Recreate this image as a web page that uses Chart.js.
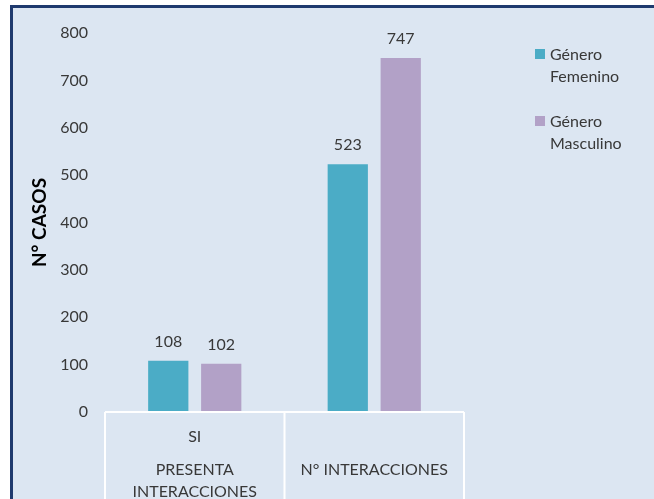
<!DOCTYPE html>
<html>
<head>
<meta charset="utf-8">
<script src="https://cdn.jsdelivr.net/npm/chart.js@4.4.1/dist/chart.umd.min.js"></script>
<style>
  html, body { margin: 0; padding: 0; background: #ffffff; overflow: hidden; }
  #wrap { position: relative; width: 654px; height: 499px; overflow: hidden; }
  #frame {
    position: absolute; left: 10px; top: 5px; width: 700px; height: 560px;
    background: #dce6f2; border: 3px solid #1f3a6e; box-sizing: border-box;
  }
  #chartBox { position: absolute; left: 0; top: 0; width: 654px; height: 540px; }
  #legend {
    position: absolute; left: 535px; top: 43px;
    font-family: Lato, "Liberation Sans", sans-serif; font-size: 16px; color: #383838;
    line-height: 22px;
  }
  .item { position: relative; padding-left: 15px; margin-bottom: 23px; }
  .swatch { position: absolute; left: 0; top: 6px; width: 10px; height: 10px; }
</style>
</head>
<body>
<div id="wrap">
  <div id="frame"></div>
  <div id="chartBox"><canvas id="c" width="654" height="540"></canvas></div>
  <div id="legend"></div>
</div>
<script>
// Inner category row and outer group row of the category axis
const categories = ["SI", ""];
const groupLabels = [["PRESENTA", "INTERACCIONES"], "N° INTERACCIONES"];

// Series
const seriesNames = [["Género", "Femenino"], ["Género", "Masculino"]];
const femenino = [108, 523];
const masculino = [102, 747];
const seriesColors = ["#4bacc6", "#b2a1c7"];

// Value axis
const yMax = 800;
const yStep = 100;
const yTitle = "N° CASOS";

const FONT = 'Lato, "Liberation Sans", sans-serif';
const TEXT = '#383838';

// White table lines under the plot: baseline plus the category boundaries
const tableLines = {
  id: 'tableLines',
  afterDraw(chart) {
    const x = chart.scales.x, y = chart.scales.y;
    const ctx = chart.ctx;
    const base = y.getPixelForValue(0);
    const half = (x.getPixelForValue(1) - x.getPixelForValue(0)) / 2;
    ctx.save();
    ctx.strokeStyle = '#ffffff';
    ctx.lineWidth = 2;
    ctx.beginPath();
    ctx.moveTo(x.left, base);
    ctx.lineTo(x.right, base);
    for (let i = 0; i < categories.length; i++) {
      const p = x.getPixelForValue(i) - half;
      ctx.moveTo(p, base);
      ctx.lineTo(p, chart.height);
    }
    const last = x.getPixelForValue(categories.length - 1) + half;
    ctx.moveTo(last, base);
    ctx.lineTo(last, chart.height);
    ctx.stroke();
    ctx.restore();
  }
};

// Value labels above each bar
const valueLabels = {
  id: 'valueLabels',
  afterDatasetsDraw(chart) {
    const ctx = chart.ctx;
    ctx.save();
    ctx.font = '16px ' + FONT;
    ctx.fillStyle = TEXT;
    ctx.textAlign = 'center';
    ctx.textBaseline = 'middle';
    chart.data.datasets.forEach((ds, di) => {
      chart.getDatasetMeta(di).data.forEach((bar, i) => {
        ctx.fillText(String(ds.data[i]), bar.x, bar.y - 19);
      });
    });
    ctx.restore();
  }
};

const chart = new Chart(document.getElementById('c'), {
  type: 'bar',
  data: {
    labels: categories,
    datasets: [
      { label: seriesNames[0].join(' '), data: femenino, backgroundColor: seriesColors[0] },
      { label: seriesNames[1].join(' '), data: masculino, backgroundColor: seriesColors[1] }
    ]
  },
  options: {
    responsive: false,
    animation: false,
    categoryPercentage: 0.59,
    barPercentage: 0.76,
    layout: { padding: { left: 28, top: 33, right: 190, bottom: 0 } },
    plugins: { legend: { display: false }, tooltip: { enabled: false } },
    scales: {
      y: {
        min: 0, max: yMax,
        ticks: { stepSize: yStep, padding: 17, color: TEXT, font: { family: FONT, size: 16 } },
        grid: { display: false, drawTicks: false },
        border: { display: false },
        title: { display: true, text: yTitle, color: '#000000', padding: 0,
                 font: { family: FONT, size: 19, weight: 'bold' } },
        afterFit(s) { s.width = 77; }
      },
      x: {
        weight: 1,
        ticks: { padding: 15, color: TEXT, font: { family: FONT, size: 16, lineHeight: '20px' }, maxRotation: 0 },
        grid: { display: false, drawTicks: false },
        border: { display: false },
        afterFit(s) { s.height = 40; }
      },
      x2: {
        type: 'category',
        position: 'bottom',
        weight: 2,
        offset: true,
        labels: groupLabels,
        ticks: { padding: 7, color: TEXT, font: { family: FONT, size: 16, lineHeight: '22px' }, maxRotation: 0, autoSkip: false },
        grid: { display: false, drawTicks: false },
        border: { display: false },
        afterFit(s) { s.height = 88; }
      }
    }
  },
  plugins: [tableLines, valueLabels]
});

// Legend built from the chart's datasets
const legend = document.getElementById('legend');
chart.data.datasets.forEach((ds, i) => {
  const item = document.createElement('div');
  item.className = 'item';
  const sw = document.createElement('span');
  sw.className = 'swatch';
  sw.style.background = ds.backgroundColor;
  item.appendChild(sw);
  seriesNames[i].forEach((line, k) => {
    if (k) item.appendChild(document.createElement('br'));
    item.appendChild(document.createTextNode(line));
  });
  legend.appendChild(item);
});
</script>
</body>
</html>
